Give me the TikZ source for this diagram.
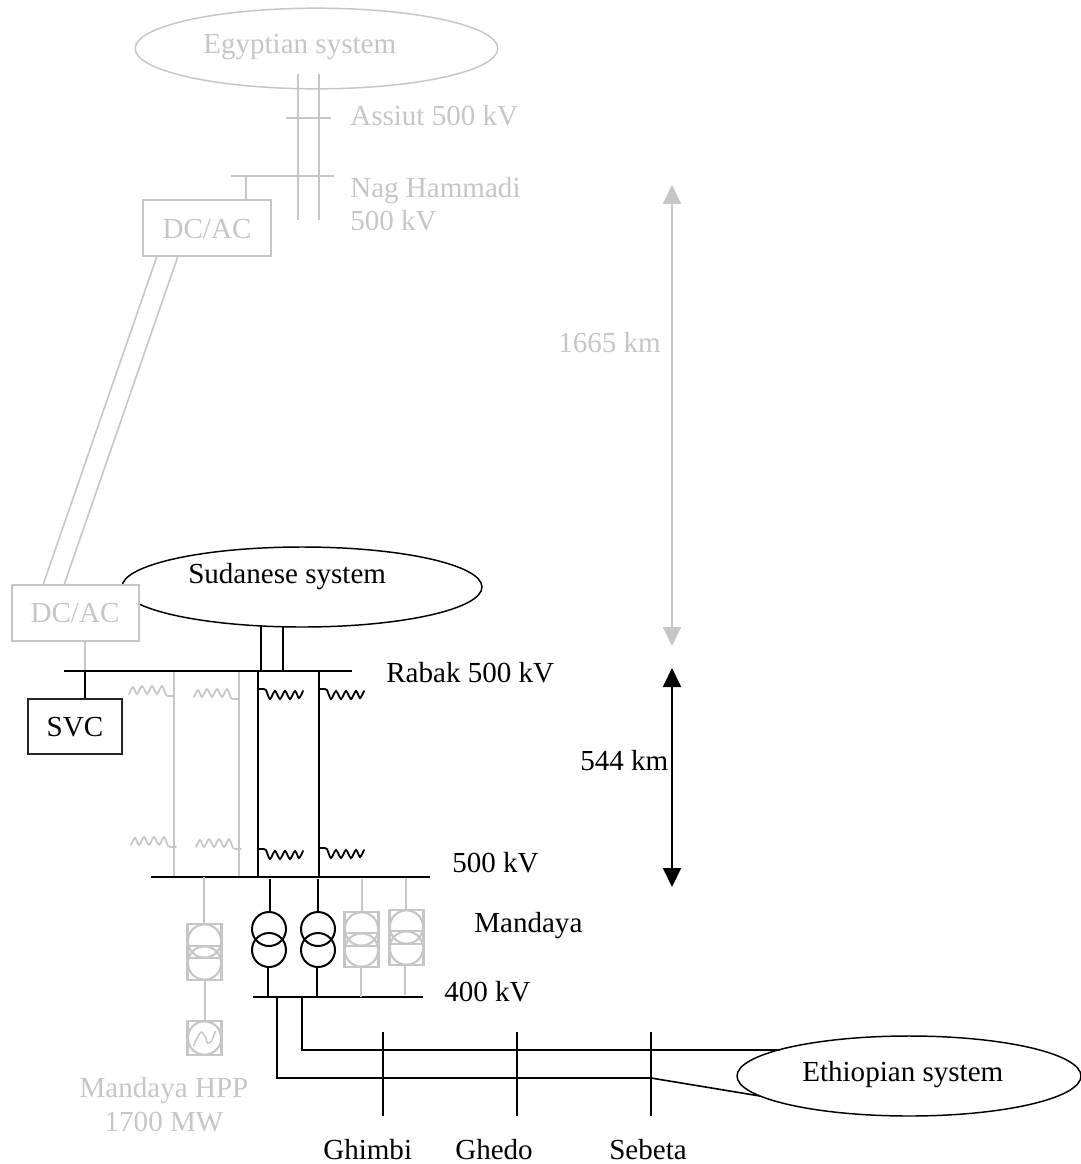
\documentclass[tikz,border=0pt]{standalone}
\usepackage{fontspec}
\setmainfont{Liberation Serif}
\usetikzlibrary{arrows.meta,shapes.geometric}
\definecolor{dim}{HTML}{C6C6C6}
\tikzset{
  bl/.style={draw=black,line width=1.5pt},
  gl/.style={draw=dim,line width=1.5pt},
  thinbl/.style={draw=black,line width=1.2pt},
  thingl/.style={draw=dim,line width=1.2pt},
  lab/.style={anchor=base west,inner sep=0pt,font=\fontsize{21.8}{26}\selectfont},
  glab/.style={lab,text=dim},
  clab/.style={anchor=base,inner sep=0pt,font=\fontsize{21.8}{26}\selectfont,text=dim},
  sysel/.style={ellipse,fill=white,inner sep=0pt},
  boxn/.style={rectangle,inner sep=0pt,line width=1.5pt},
  xsq/.style={rectangle,draw=dim,line width=1.6pt,minimum size=25.5pt,inner sep=0pt},
  xcg/.style={circle,draw=dim,line width=1.6pt,minimum size=25pt,inner sep=0pt},
  xcb/.style={circle,draw=black,line width=1.5pt,minimum size=25.5pt,inner sep=0pt},
  coilg/.style={smooth,draw=dim,line width=1.3pt,line cap=round},
  coilb/.style={smooth,draw=black,line width=1.35pt,line cap=round},
  darrb/.style={draw=black,line width=1.5pt,{Triangle[length=14.25pt,width=13.5pt]}-{Triangle[length=14.25pt,width=13.5pt]}},
  darrg/.style={draw=dim,line width=1.5pt,{Triangle[length=14.25pt,width=13.5pt]}-{Triangle[length=14.25pt,width=13.5pt]}},
}
\newcommand{\coilpath}{plot coordinates {(0,0) (6,0) (8,1) (12,10) (17,2) (22,10) (27,2) (32,10) (37,2) (41,9) (45,2)}}
\begin{document}
\begin{tikzpicture}[x=0.75pt,y=-0.75pt]
\useasboundingbox (0,0) rectangle (1081,1164);

% ---------- upper (grey) system
\node[sysel,draw=dim,line width=1.1pt,minimum width=272pt,minimum height=60.5pt] (egy) at (316.5,48.5) {};
\node[glab] (egyt) at (203,53) {Egyptian system};
\coordinate (e1t) at (298,74); \coordinate (e1b) at (298,220);
\coordinate (e2t) at (319,74); \coordinate (e2b) at (319,220);
\draw[thingl] (e1t) -- (e1b);
\draw[thingl] (e2t) -- (e2b);
\coordinate (asL) at (286,118); \coordinate (asR) at (331,118);
\draw[thingl] (asL) -- (asR);
\node[glab] (ast) at (350,125) {Assiut 500 kV};
\coordinate (nhL) at (231,176); \coordinate (nhR) at (334,176);
\coordinate (nhT) at (246,176);
\draw[thingl] (nhL) -- (nhR);
\node[glab] (nht1) at (350,197) {Nag Hammadi};
\node[glab] (nht2) at (350,230) {500 kV};
\node[boxn,draw=dim,minimum width=96pt,minimum height=42pt] (dc1) at (207,228) {};
\node[clab] (dc1t) at (207,238) {DC/AC};
\draw[thingl] (nhT) -- (nhT |- dc1.north);
\coordinate (c1a) at (157,256); \coordinate (c1b) at (43,585);
\coordinate (c2a) at (178,256); \coordinate (c2b) at (64,585);
\draw[thingl] (c1a) -- (c1b);
\draw[thingl] (c2a) -- (c2b);
\draw[darrg] (672,185) -- (672,646);
\node[glab] (km1) at (558,352) {1665 km};

% ---------- Sudanese system
\node[sysel,draw=black,line width=1.1pt,minimum width=270pt,minimum height=60pt] (sud) at (302,587) {};
\node[lab] (sudt) at (188,583) {Sudanese system};
% lower DC/AC box, over the ellipse
\node[boxn,draw=dim,fill=white,minimum width=95.25pt,minimum height=42pt] (dc2) at (75.5,613) {};
\node[clab] (dc2t) at (75,622.5) {DC/AC};
\coordinate (rabL) at (64,671); \coordinate (rabR) at (352,671);
\coordinate (s1t) at (261,625); \coordinate (s1b) at (261,671);
\coordinate (s2t) at (283,626); \coordinate (s2b) at (283,671);
\draw[thinbl] (s1t) -- (s1b);
\draw[thinbl] (s2t) -- (s2b);
\node[lab] (rabt) at (386,682) {Rabak 500 kV};
% SVC
\coordinate (svcT) at (85,671);
\node[boxn,draw=black!85,line width=1.1pt,minimum width=70.5pt,minimum height=41.5pt] (svc) at (75,726.5) {};
\node[anchor=base,inner sep=0pt,font=\fontsize{21.8}{26}\selectfont] (svct) at (75,736) {SVC};
\draw[gl] (dc2.south -| svcT) -- (svcT);
\draw[bl] (svcT) -- (svcT |- svc.north);

% ---------- lines between buses
\coordinate (mbL) at (151,877); \coordinate (mbR) at (430,877);
\coordinate (ga) at (174,671); \coordinate (gam) at (174,877);
\coordinate (gb) at (239,671); \coordinate (gbm) at (239,877);
\coordinate (ba) at (258,671); \coordinate (bam) at (258,877);
\coordinate (bb) at (319,671); \coordinate (bbm) at (319,877);
\draw[gl] (ga) -- (gam);
\draw[gl] (gb) -- (gbm);
\draw[bl] (ba) -- (bam);
\draw[bl] (bb) -- (bbm);
\draw[bl] (rabL) -- (rabR);
\draw[bl] (mbL) -- (mbR);
\node[lab] (mb5) at (452,872) {500 kV};
\node[lab] (man) at (474,932) {Mandaya};
\draw[darrb] (672,668) -- (672,887);
\node[lab] (km2) at (580,770) {544 km};

% reactors
\begin{scope}[shift={(174,696)},rotate=180] \draw[coilg] \coilpath; \end{scope}
\begin{scope}[shift={(239,699)},rotate=180] \draw[coilg] \coilpath; \end{scope}
\begin{scope}[shift={(176,847)},rotate=180] \draw[coilg] \coilpath; \end{scope}
\begin{scope}[shift={(241,849)},rotate=180] \draw[coilg] \coilpath; \end{scope}
\begin{scope}[shift={(258,689)}] \draw[coilb] \coilpath; \end{scope}
\begin{scope}[shift={(319,689)}] \draw[coilb] \coilpath; \end{scope}
\begin{scope}[shift={(258,849)}] \draw[coilb] \coilpath; \end{scope}
\begin{scope}[shift={(319,848)}] \draw[coilb] \coilpath; \end{scope}

% ---------- 400 kV bus
\coordinate (lbL) at (253,997); \coordinate (lbR) at (423,997);
\draw[bl] (lbL) -- (lbR);
\node[lab] (lb4) at (444,1001) {400 kV};

% black transformers
\node[xcb] (t1u) at (269,929) {};
\node[xcb] (t1l) at (269,950) {};
\node[xcb] (t2u) at (318,929) {};
\node[xcb] (t2l) at (318,950) {};
\coordinate (t1a) at (270,879); \coordinate (t1b) at (268,997);
\coordinate (t2a) at (318,879); \coordinate (t2b) at (317,997);
\draw[bl] (t1a) -- (t1a |- t1u.north);
\draw[bl] (t1b |- t1l.south) -- (t1b);
\draw[bl] (t2a) -- (t2a |- t2u.north);
\draw[bl] (t2b |- t2l.south) -- (t2b);

% grey transformers
\foreach \n/\cx/\yu/\yl in {t0/204.5/941/963, t3/361.5/929/950, t4/406.5/927/948}{
  \node[xsq] (\n su) at (\cx,\yu) {};
  \node[xsq] (\n sl) at (\cx,\yl) {};
  \node[xcg] (\n cu) at (\cx,\yu) {};
  \node[xcg] (\n cl) at (\cx,\yl) {};
}
\coordinate (t3a) at (362,879); \coordinate (t3b) at (361,997);
\coordinate (t4a) at (406,878); \coordinate (t4b) at (405,995);
\coordinate (t0a) at (204,877);
\draw[gl] (t3a) -- (t3a |- t3su.north);
\draw[gl] (t3b |- t3sl.south) -- (t3b);
\draw[gl] (t4a) -- (t4a |- t4su.north);
\draw[gl] (t4b |- t4sl.south) -- (t4b);
\draw[gl] (t0a) -- (t0a |- t0su.north);
% generator
\node[xsq] (gs) at (204.5,1038) {};
\node[xcg] (gc) at (204.5,1038) {};
\draw[gl] (t0sl.south) -- (gs.north);
\begin{scope}[shift={(204.5,1038)}]
\draw[smooth,draw=dim,line width=1.1pt] plot coordinates {(-11,8) (-7,-1) (-3,-6) (1,-1) (3,5) (7,3) (11,-7)};
\end{scope}
\node[clab] (hp1) at (164,1097) {Mandaya HPP};
\node[clab] (hp2) at (164,1131) {1700 MW};

% ---------- Ethiopian system
\node[sysel,draw=black,line width=1.1pt,minimum width=258pt,minimum height=60pt] (eth) at (909,1076) {};
\node[lab] (etht) at (802,1081) {Ethiopian system};
\coordinate (f1a) at (277,997); \coordinate (f1b) at (277,1078);
\coordinate (f1c) at (651,1078); \coordinate (f1d) at (760,1096);
\coordinate (f2a) at (302,997); \coordinate (f2b) at (302,1050);
\coordinate (f2c) at (780,1050);
\draw[thinbl] (f1a) -- (f1b) -- (f1c) -- (f1d);
\draw[thinbl] (f2a) -- (f2b) -- (f2c);
\coordinate (g1t) at (383,1032); \coordinate (g1b) at (383,1116);
\coordinate (g2t) at (517,1032); \coordinate (g2b) at (517,1116);
\coordinate (g3t) at (651,1032); \coordinate (g3b) at (651,1116);
\draw[thinbl] (g1t) -- (g1b);
\draw[thinbl] (g2t) -- (g2b);
\draw[thinbl] (g3t) -- (g3b);
\node[lab] (gt1) at (323,1159) {Ghimbi};
\node[lab] (gt2) at (455,1159) {Ghedo};
\node[lab] (gt3) at (609,1159) {Sebeta};
\end{tikzpicture}
\end{document}
